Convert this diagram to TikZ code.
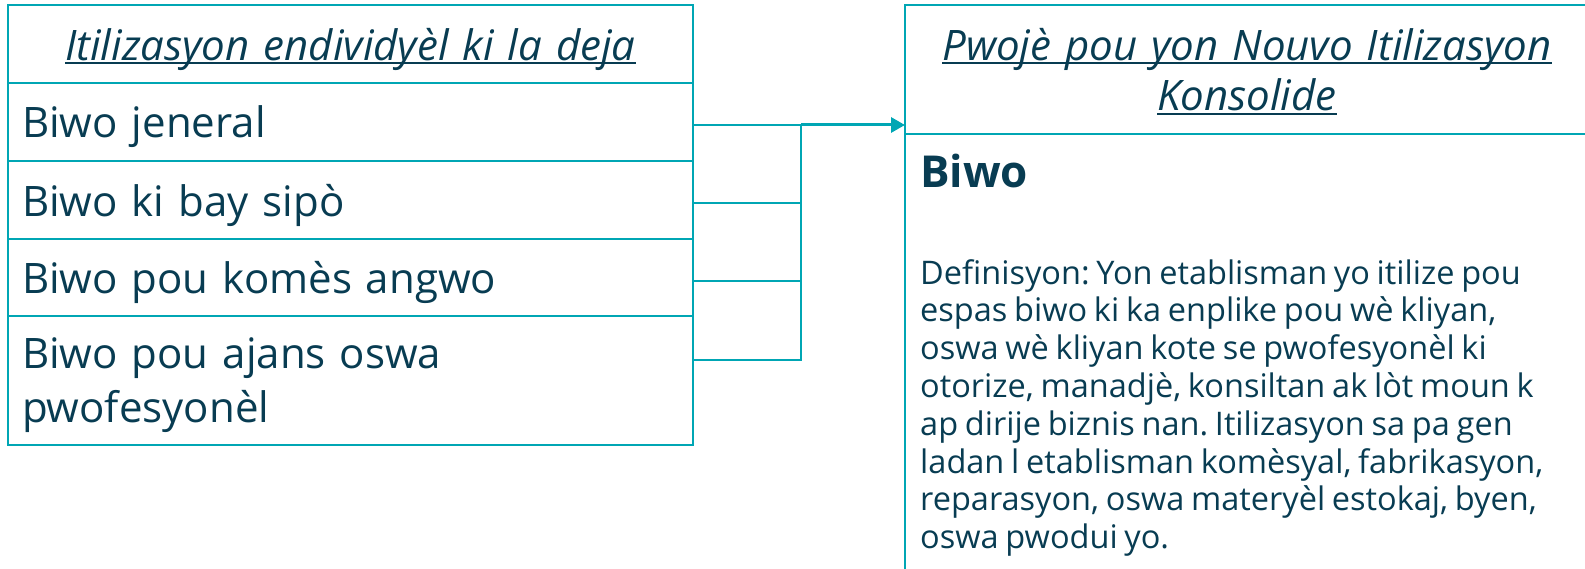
\documentclass[tikz,border=0pt]{standalone}
\usepackage{fontspec}
\setmainfont[WordSpace=0.8]{Open Sans}
\usetikzlibrary{arrows.meta}
\definecolor{tealline}{RGB}{0,166,180}
\definecolor{inkblue}{RGB}{8,60,82}
\newsavebox{\hdrbox}
\newcommand{\hdrtext}[1]{\leavevmode\sbox{\hdrbox}{#1}\rlap{\rule[-4pt]{\wd\hdrbox}{2pt}}\usebox{\hdrbox}}
\frenchspacing

\begin{document}
\begin{tikzpicture}[x=1pt,y=-1pt,
	cell/.style={rectangle,draw=tealline,line width=2.4pt,text=inkblue,anchor=north west,
		inner xsep=14pt,inner ysep=0pt,outer sep=0pt,text width=657pt,align=left,text depth=0pt,
		font=\fontsize{42}{54}\selectfont},
	headcell/.style={cell,align=center,font=\fontsize{42}{50.5}\selectfont\itshape},
	link/.style={draw=tealline,line width=1.8pt},
	tiptri/.style={-{Triangle[length=14pt,width=15pt]},draw=tealline,line width=3pt}]
	\useasboundingbox (0,0) rectangle (1585,569);
	% left table
	\node[headcell,minimum height=78pt] (oldhdr) at (8,5) {\hdrtext{Itilizasyon endividyèl ki la deja}};
	\node[cell,minimum height=78pt] (use1) at (8,83) {Biwo jeneral};
	\node[cell,minimum height=78pt] (use2) at (8,161) {Biwo ki bay sipò};
	\node[cell,minimum height=77pt] (use3) at (8,239) {Biwo pou komès angwo};
	\node[cell,minimum height=129pt,text depth=54pt] (use4) at (8,316) {Biwo pou ajans oswa\\pwofesyonèl};
	% right box
	\node[headcell,text width=656pt,minimum height=129pt,text depth=50.5pt] (newhdr) at (905,5) {\hdrtext{Pwojè pou yon Nouvo Itilizasyon}\\\hdrtext{Konsolide}};
	\node[cell,text width=656pt,minimum height=460pt] (newbody) at (905,134) {};
	\node[text=inkblue,anchor=base west,inner sep=0pt,font=\fontsize{44}{55}\selectfont\bfseries] (usename) at (920,188) {Biwo};
	\node[text=inkblue,anchor=north west,inner sep=0pt,align=left,font=\fontsize{32.5}{37.8}\selectfont] (usedef) at (920,259) {Definisyon: Yon etablisman yo itilize pou\\
		espas biwo ki ka enplike pou wè kliyan,\\
		oswa wè kliyan kote se pwofesyonèl ki\\
		otorize, manadjè, konsiltan ak lòt moun k\\
		ap dirije biznis nan. Itilizasyon sa pa gen\\
		ladan l etablisman komèsyal, fabrikasyon,\\
		reparasyon, oswa materyèl estokaj, byen,\\
		oswa pwodui yo.};
	% connectors
	\coordinate (jn) at (801,125);
	\draw[link] (use1.east |- jn) -- (jn);
	\draw[link] (use2.east |- 0,203) -| (jn);
	\draw[link] (use3.east |- 0,281) -| (jn);
	\draw[link] (use4.east |- 0,360) -| (jn);
	\draw[tiptri] (jn) -- (jn -| newhdr.west);
\end{tikzpicture}
\end{document}
